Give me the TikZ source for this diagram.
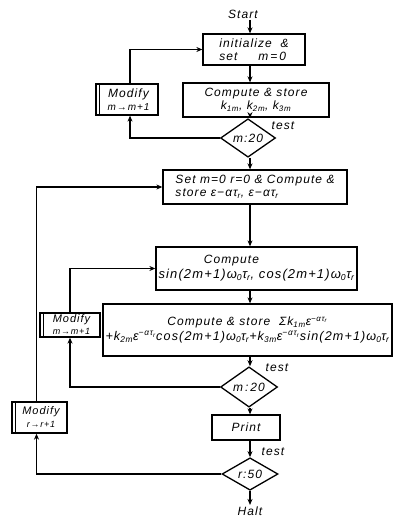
\documentclass[tikz,border=0pt]{standalone}
\usepackage{fontspec}
\setmainfont{Liberation Sans}[LetterSpace=9]
\usepackage{graphicx}
\usetikzlibrary{shapes.geometric,arrows.meta}
\newcommand{\sbs}[1]{\textsubscript{#1}}
\newcommand{\sps}[1]{\textsuperscript{#1}}
\begin{document}
\begin{tikzpicture}[x=1pt,y=1pt,
  font=\itshape\fontsize{12}{13}\selectfont,
  line width=1.3pt,
  boxb/.style={draw, rectangle, inner sep=1pt, align=center},
  dia/.style={draw, diamond, inner sep=0pt},
  arr/.style={-{Stealth[length=6pt,width=5pt]}},
  lbl/.style={inner sep=1pt}]
\useasboundingbox (0,0) rectangle (393,-518);
\coordinate (sp) at (250,0);
% main column
\node[lbl] (start) at (243,-14) {Start};
\node[boxb, minimum width=102, minimum height=31, align=left] (b1) at (254,-49.5)
  {initialize\ \ \&\\set\quad\ \ m\,=\,0};
\node[boxb, minimum width=146, minimum height=34] (b2) at (256,-100)
  {Compute \& store\\k\sbs{1m}, k\sbs{2m}, k\sbs{3m}};
\node[dia, minimum width=55, minimum height=27] (d1) at (248,-138) {m:20};
\node[lbl] (t1) at (283,-126) {test};
\node[boxb, minimum width=184, minimum height=34, align=left] (b3) at (255,-187)
  {Set m=0 r=0 \& Compute \&\\store ε−ατ\sbs{r}, ε−ατ\sbs{r}};
\node[boxb, minimum width=201, minimum height=43] (b4) at (256.5,-268.5)
  {Compute\hspace*{50pt}\\[2pt]\resizebox{196pt}{!}{sin(2m+1)ω\sbs{0}τ\sbs{r}, cos(2m+1)ω\sbs{0}τ\sbs{r}}};
\node[boxb, minimum width=289, minimum height=52] (b5) at (247.5,-330)
  {Compute \& store \ Σk\sbs{1m}ε\sps{−ατ\sbs{r}}\\[2pt]
   \resizebox{284pt}{!}{+k\sbs{2m}ε\sps{−ατ\sbs{r}}cos(2m+1)ω\sbs{0}τ\sbs{r}+k\sbs{3m}ε\sps{−ατ\sbs{r}}sin(2m+1)ω\sbs{0}τ\sbs{r}}};
\node[dia, minimum width=57, minimum height=22] (d2) at (249,-387) {m\,:\,20};
\node[lbl] (t2) at (277,-368) {test};
\node[boxb, minimum width=68, minimum height=25] (pr) at (246,-427.5) {Print};
\node[lbl] (t3) at (273,-452) {test};
\node[dia, minimum width=56, minimum height=28] (d3) at (250,-474) {r:50};
\node[lbl] (halt) at (250,-511) {Halt};
% modify boxes
\node[boxb, minimum width=62, minimum height=31] (m1) at (127,-99.5)
  {\hspace*{3pt}Modify\\\hspace*{3pt}\fontsize{10}{11}\selectfont m→m+1};
\node[boxb, minimum width=60, minimum height=24, inner sep=0pt] (m2) at (70,-325)
  {\hspace*{3pt}\fontsize{11}{11}\selectfont Modify\\[-1pt]\hspace*{3pt}\fontsize{9}{9}\selectfont m→m+1};
\node[boxb, minimum width=55, minimum height=31] (m3) at (39.5,-417.5)
  {\hspace*{3pt}\fontsize{11}{12}\selectfont Modify\\\hspace*{3pt}\fontsize{9}{10}\selectfont r→r+1};
\foreach \m in {m1,m2,m3}
  \draw ([xshift=4pt]\m.north west) -- ([xshift=4pt]\m.south west);
% connectors
\draw[arr] (start.south -| sp) -- (b1.north -| sp);
\draw[arr] (b1.south -| sp) -- (b2.north -| sp);
\draw[arr] (b2.south -| sp) -- (d1.north -| sp);
\draw[arr] (d1.south -| sp) -- (b3.north -| sp);
\draw[arr] (b3.south -| sp) -- (b4.north -| sp);
\draw[arr] (b4.south -| sp) -- (b5.north -| sp);
\draw[arr] (b5.south -| sp) -- (d2.north -| sp);
\draw[arr] (d2.south -| sp) -- (pr.north -| sp);
\draw[arr] (pr.south -| sp) -- (d3.north -| sp);
\draw[arr] (d3.south) -- (halt.north);
% loops
\draw[arr] (d1.west) -| ([xshift=3pt]m1.south);
\draw[arr] ([xshift=3pt]m1.north) |- (b1.west);
\draw[arr] (d2.west) -| (m2.south);
\draw[arr] (m2.north) |- (b4.west);
\draw[arr] (d3.west) -| ([xshift=-3pt]m3.south);
\draw[arr] ([xshift=-3pt]m3.north) |- (b3.west);
\end{tikzpicture}
\end{document}
